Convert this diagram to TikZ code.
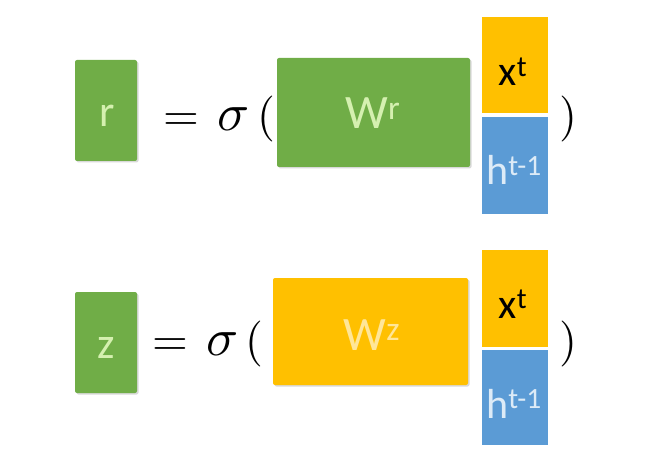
\documentclass[tikz,border=0pt]{standalone}
\usepackage{fontspec}
\setmainfont{Carlito}
\usetikzlibrary{shadows}
\definecolor{gGreen}{HTML}{70AD47}
\definecolor{gYellow}{HTML}{FFC000}
\definecolor{gBlue}{HTML}{5B9BD5}
\definecolor{tGreen}{HTML}{D5F0B0}
\definecolor{tYellow}{HTML}{FFE699}
\definecolor{tBlue}{HTML}{DDEBF7}
\newcommand{\myBigMath}[1]{\scalebox{4.6}{$#1$}}
\newcommand{\mySigma}{\scalebox{5.3}{$\sigma$}}
\tikzset{
  blk/.style={draw=none, rounded corners=2pt, inner sep=0pt,
    drop shadow={shadow xshift=1.5pt, shadow yshift=-1.5pt, opacity=0.25, fill=black!60}},
  sq/.style={draw=none, inner sep=0pt},
  lbl/.style={inner sep=0pt, font=\fontsize{44}{44}\selectfont},
  wlbl/.style={inner sep=0pt, font=\fontsize{48}{48}\selectfont},
  sml/.style={inner sep=0pt, font=\fontsize{42}{42}\selectfont},
  mth/.style={inner sep=0pt},
}
\begin{document}
\begin{tikzpicture}[x=1pt,y=-1pt]
\useasboundingbox (0,0) rectangle (659,468);
% ---- row 1
\node[blk, fill=gGreen, minimum width=62pt, minimum height=101pt] (r) at (106,110.5) {};
\node[blk, fill=gGreen, minimum width=193pt, minimum height=109pt] (Wr) at (373.5,112.5) {};
\node[sq, fill=gYellow, minimum width=66pt, minimum height=96pt] (x1) at (515,65) {};
\node[sq, fill=gBlue, minimum width=66pt, minimum height=97pt] (h1) at (515,165.5) {};
\node[lbl, text=tGreen, anchor=base] (rt) at (107,127) {r};
\node[mth, anchor=base] (eq1) at (181,131) {\myBigMath{=}};
\node[mth, anchor=base] (s1) at (234,131) {\mySigma};
\node[mth, anchor=base] (o1) at (266,131) {\myBigMath{(}};
\node[wlbl, text=tGreen, anchor=base] (Wrt) at (373,129) {W\textsuperscript{r}};
\node[sml, text=black, anchor=base] (xt1) at (513,86) {x\textsuperscript{t}};
\node[sml, text=tBlue, anchor=base] (ht1) at (514,185) {h\textsuperscript{t-1}};
\node[mth, anchor=base] (p1) at (568,131) {\myBigMath{)}};
% ---- row 2
\node[blk, fill=gGreen, minimum width=62pt, minimum height=101pt] (z) at (106,342.5) {};
\node[blk, fill=gYellow, minimum width=195pt, minimum height=107pt] (Wz) at (370.5,331.5) {};
\node[sq, fill=gYellow, minimum width=66pt, minimum height=97pt] (x2) at (515,298.5) {};
\node[sq, fill=gBlue, minimum width=66pt, minimum height=95pt] (h2) at (515,397.5) {};
\node[lbl, text=tGreen, anchor=base] (zt) at (106,358) {z};
\node[mth, anchor=base] (eq2) at (170,355) {\myBigMath{=}};
\node[mth, anchor=base] (s2) at (223,355) {\mySigma};
\node[mth, anchor=base] (o2) at (254,355) {\myBigMath{(}};
\node[wlbl, text=tYellow, anchor=base] (Wzt) at (372,350) {W\textsuperscript{z}};
\node[sml, text=black, anchor=base] (xt2) at (513,318) {x\textsuperscript{t}};
\node[sml, text=tBlue, anchor=base] (ht2) at (514,418) {h\textsuperscript{t-1}};
\node[mth, anchor=base] (p2) at (568,355) {\myBigMath{)}};
\end{tikzpicture}
\end{document}
